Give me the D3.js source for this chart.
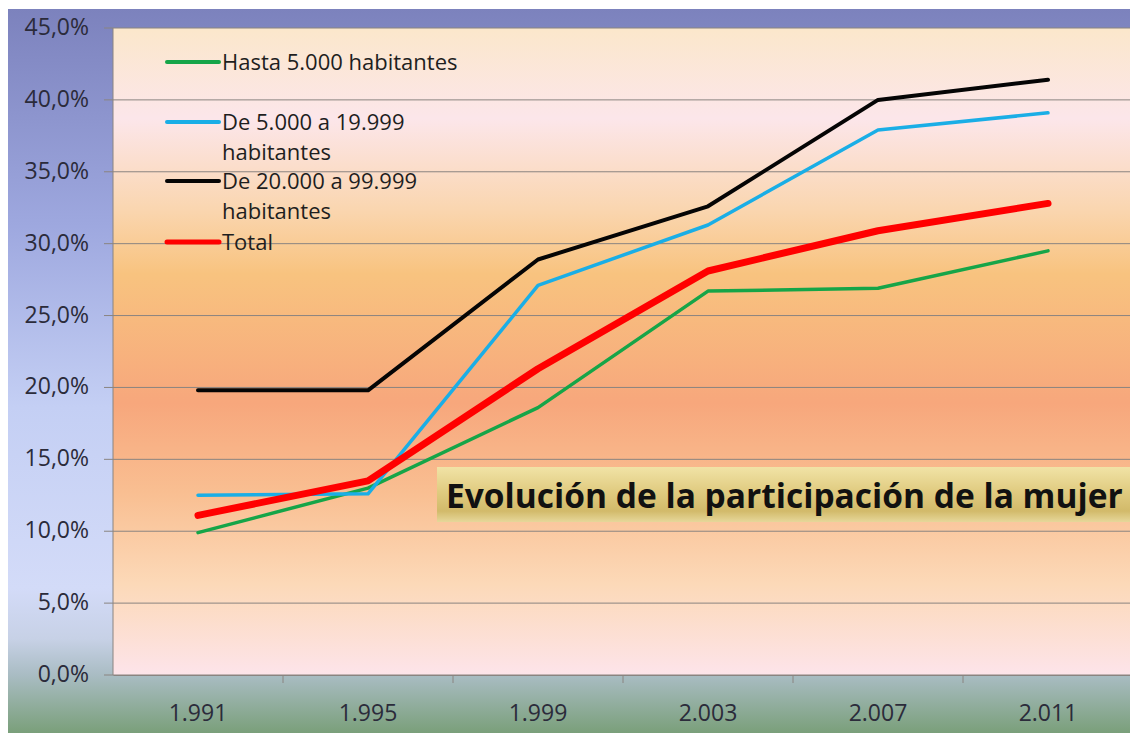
<!DOCTYPE html>
<html>
<head>
<meta charset="utf-8">
<script src="https://cdn.jsdelivr.net/npm/d3@7"></script>
<style>
  body { margin: 0; background: #ffffff; }
  svg { display: block; }
  text { font-family: "Open Sans", Lato, sans-serif; }
</style>
</head>
<body>
<div id="chart"></div>
<script>
'use strict';

// data
let years = ["1.991", "1.995", "1.999", "2.003", "2.007", "2.011"];
let hasta5000 = [9.9, 13.0, 18.6, 26.7, 26.9, 29.5];
let de5000a19999 = [12.5, 12.6, 27.1, 31.3, 37.9, 39.1];
let de20000a99999 = [19.8, 19.8, 28.9, 32.6, 40.0, 41.4];
let total = [11.1, 13.5, 21.3, 28.1, 30.9, 32.8];
let yTicks = [0, 5, 10, 15, 20, 25, 30, 35, 40, 45];
let seriesNames = [["Hasta 5.000 habitantes"], ["De 5.000 a 19.999", "habitantes"], ["De 20.000 a 99.999", "habitantes"], ["Total"]];
let chartTitle = "Evolución de la participación de la mujer";

{ // start scope

let width = 1130, height = 733;
let plotLeft = 113, plotRight = 1130, plotTop = 28, plotBottom = 675;

let svg = d3.select("#chart").append("svg")
    .attr("width", width)
    .attr("height", height);

let defs = svg.append("defs");

// vertical gradient helper
function addGradient(id, stops) {
    let g = defs.append("linearGradient")
        .attr("id", id)
        .attr("x1", 0).attr("y1", 0).attr("x2", 0).attr("y2", 1);
    stops.forEach((s) => {
        g.append("stop").attr("offset", s[0]).attr("stop-color", s[1]);
    });
}

addGradient("frameGrad", [
    [0, "#7c82bd"], [0.3, "#9ea8df"], [0.55, "#c4cff4"], [0.8, "#d3dbf8"],
    [0.87, "#c7d1e6"], [0.92, "#a9bcc3"], [1, "#7a9f7a"]
]);
addGradient("plotGrad", [
    [0, "#fbe7cb"], [0.14, "#fce6ea"], [0.28, "#fad6b0"], [0.38, "#f8c37f"],
    [0.58, "#f7a77c"], [0.72, "#f9bf92"], [0.86, "#fcd9b8"], [1, "#fde4ea"]
]);
addGradient("titleGrad", [
    [0, "#f1e3a6"], [0.45, "#e0cb80"], [0.8, "#d2ba6a"], [1, "#e6d79a"]
]);

// outer frame
svg.append("rect")
    .attr("x", 8).attr("y", 9)
    .attr("width", width - 8).attr("height", height - 9)
    .attr("fill", "url(#frameGrad)");

// plot area
svg.append("rect")
    .attr("x", plotLeft).attr("y", plotTop)
    .attr("width", plotRight - plotLeft).attr("height", plotBottom - plotTop)
    .attr("fill", "url(#plotGrad)");

let x = d3.scaleBand()
    .domain(years)
    .range([plotLeft, plotLeft + 6 * 170]);

let y = d3.scaleLinear()
    .domain([0, 45])
    .range([plotBottom, plotTop]);

// gridlines
svg.append("g")
    .selectAll("line")
    .data(yTicks)
    .enter()
    .append("line")
    .attr("x1", plotLeft - 9)
    .attr("x2", plotRight)
    .attr("y1", (d) => y(d))
    .attr("y2", (d) => y(d))
    .attr("stroke", "#8a8480")
    .attr("stroke-width", 1);

// y labels
let fmt = (d) => d.toFixed(1).replace(".", ",") + "%";
svg.append("g")
    .selectAll("text")
    .data(yTicks)
    .enter()
    .append("text")
    .attr("x", 89)
    .attr("y", (d) => y(d) + 7)
    .attr("text-anchor", "end")
    .attr("font-size", 23)
    .attr("fill", "#2b2b3a")
    .text(fmt);

// y axis line
svg.append("line")
    .attr("x1", plotLeft).attr("x2", plotLeft)
    .attr("y1", plotTop).attr("y2", plotBottom)
    .attr("stroke", "#8a8480");

// x axis with ticks between categories
let xAxis = d3.axisBottom(x).tickSize(0).tickPadding(0);
let xg = svg.append("g")
    .attr("transform", "translate(0," + plotBottom + ")")
    .call(xAxis);
xg.select(".domain").attr("stroke", "#8a8480");
xg.selectAll("text")
    .attr("dy", 0)
    .attr("y", 46)
    .attr("font-size", 23)
    .attr("font-family", "'Open Sans', sans-serif")
    .attr("fill", "#2b2b3a");

svg.append("g")
    .selectAll("line")
    .data(years)
    .enter()
    .append("line")
    .attr("x1", (d) => x(d) + x.bandwidth())
    .attr("x2", (d) => x(d) + x.bandwidth())
    .attr("y1", plotBottom)
    .attr("y2", plotBottom + 8)
    .attr("stroke", "#8a8480");

// title box
let titleBox = svg.append("g");
titleBox.append("rect")
    .attr("x", 437).attr("y", 467)
    .attr("width", plotRight - 437).attr("height", 55)
    .attr("fill", "url(#titleGrad)");
titleBox.append("text")
    .attr("x", 446).attr("y", 508)
    .attr("font-size", 33.5)
    .attr("font-weight", "bold")
    .attr("fill", "#111111")
    .text(chartTitle);

// series lines
let seriesData = [hasta5000, de5000a19999, de20000a99999, total];
let seriesColors = ["#16a548", "#1aaee6", "#050505", "#ff0000"];
let seriesWidths = [3.5, 3.5, 4, 7];

let line = d3.line()
    .x((d, i) => x(years[i]) + x.bandwidth() / 2)
    .y((d) => y(d));

svg.append("g")
    .selectAll("path")
    .data(seriesData)
    .enter()
    .append("path")
    .attr("d", (d) => line(d))
    .attr("fill", "none")
    .attr("stroke", (d, i) => seriesColors[i])
    .attr("stroke-width", (d, i) => seriesWidths[i])
    .attr("stroke-linejoin", "round")
    .attr("stroke-linecap", "round");

// legend
let legendY = [62, 122, 181, 242];
let legend = svg.append("g")
    .selectAll("g")
    .data(seriesNames)
    .enter()
    .append("g")
    .attr("transform", (d, i) => "translate(0," + legendY[i] + ")");

legend.append("line")
    .attr("x1", 167).attr("x2", 219)
    .attr("y1", 0).attr("y2", 0)
    .attr("stroke", (d, i) => seriesColors[i])
    .attr("stroke-width", (d, i) => i == 3 ? 5 : 4)
    .attr("stroke-linecap", "round");

legend.append("text")
    .attr("x", 222)
    .attr("y", 8)
    .attr("font-size", 22)
    .attr("fill", "#1e1e1e")
    .selectAll("tspan")
    .data((d) => d)
    .enter()
    .append("tspan")
    .attr("x", 222)
    .attr("dy", (d, i) => i == 0 ? 0 : 30)
    .text((d) => d);

} // end scope
</script>
</body>
</html>
